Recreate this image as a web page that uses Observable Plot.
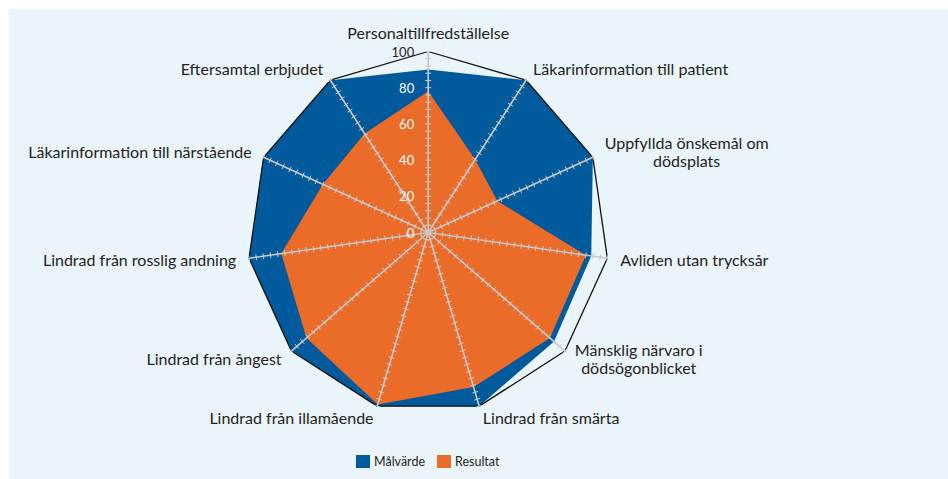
<!DOCTYPE html>
<html><head><meta charset="utf-8">
<script src="https://cdn.jsdelivr.net/npm/d3@7"></script>
<script src="https://cdn.jsdelivr.net/npm/@observablehq/plot@0.6"></script>
<style>
html,body{margin:0;padding:0;background:#fff;}
#panel{position:absolute;left:9px;top:9px;width:939px;height:470px;background:#e9f4fb;}
#chart{position:absolute;left:0;top:0;}
#legend{position:absolute;left:347px;top:445px;font:12.5px Lato,sans-serif;color:#231f20;display:flex;align-items:center;}
#legend .sw{display:inline-block;width:14px;height:13px;margin-right:4px;}
#legend .item{display:flex;align-items:center;margin-right:12px;}
</style></head>
<body>
<div id="panel"><div id="chart"></div>
<div id="legend"></div></div>
<script>
const categories = ["Personaltillfredställelse","Läkarinformation till patient","Uppfyllda önskemål om\ndödsplats","Avliden utan trycksår","Mänsklig närvaro i\ndödsögonblicket","Lindrad från smärta","Lindrad från illamående","Lindrad från ångest","Lindrad från rosslig andning","Läkarinformation till närstående","Eftersamtal erbjudet"];
const malvarde = [90,100,100,91,92,100,100,100,100,100,100];
const resultat = [78,48,42,88,89,89,99,89,82,64,65];
const seriesNames = ["Målvärde","Resultat"];
const seriesColors = ["#005a9c","#eb6b29"];
const tickValues = [0,20,40,60,80,100];
const maxValue = 100;
const minorStep = 4;

const W = 939, H = 445, cx = 418.7, cy = 223, R = 181;
const k = R / maxValue;
const n = categories.length;
const ang = i => i * 2 * Math.PI / n;
const pt = (v, i) => ({x: v * Math.sin(ang(i)), y: v * Math.cos(ang(i))});

const malPts = malvarde.map((v, i) => pt(v, i));
const resPts = resultat.map((v, i) => pt(v, i));
const outerPts = categories.map((c, i) => pt(maxValue, i));
const axes = categories.map((c, i) => ({i, ...pt(maxValue, i)}));

const ticks = [];
const half = 3 / k;
categories.forEach((c, i) => {
  const s = Math.sin(ang(i)), co = Math.cos(ang(i));
  for (let v = 0; v <= maxValue; v += minorStep) {
    const p = pt(v, i);
    ticks.push({x1: p.x + co * half, y1: p.y - s * half, x2: p.x - co * half, y2: p.y + s * half});
  }
});

const fontSize = 16;
const ctx = document.createElement("canvas").getContext("2d");
ctx.font = fontSize + "px Lato";
const gap = 13 / k;
const labels = categories.map((c, i) => {
  const s = Math.sin(ang(i)), co = Math.cos(ang(i));
  const lines = c.split("\n");
  const w = Math.max(...lines.map(l => ctx.measureText(l).width)) / k;
  const p = pt(maxValue + gap, i);
  let x = p.x;
  if (s > 0.1) x += w / 2; else if (s < -0.1) x -= w / 2;
  return {text: c, x, y: p.y, top: Math.abs(s) < 0.1 && co > 0};
});

const chart = Plot.plot({
  width: W, height: H, margin: 0,
  style: {background: "transparent", fontFamily: "Lato, sans-serif"},
  x: {domain: [-maxValue, maxValue], range: [cx - R, cx + R], axis: null},
  y: {domain: [-maxValue, maxValue], range: [cy + R, cy - R], axis: null},
  marks: [
    Plot.line(malPts, {x: "x", y: "y", curve: "linear-closed", fill: seriesColors[0], stroke: "none"}),
    Plot.line(resPts, {x: "x", y: "y", curve: "linear-closed", fill: seriesColors[1], stroke: "none"}),
    Plot.line(outerPts, {x: "x", y: "y", curve: "linear-closed", fill: "none", stroke: "#111", strokeWidth: 1.3}),
    Plot.link(axes, {x1: 0, y1: 0, x2: "x", y2: "y", stroke: "#c9c9c9", strokeWidth: 1.6}),
    Plot.link(ticks, {x1: "x1", y1: "y1", x2: "x2", y2: "y2", stroke: "#c9c9c9", strokeWidth: 1}),
    Plot.text(tickValues.filter(v => v < maxValue), {x: 0, y: d => d, text: d => String(d), textAnchor: "end", dx: -14, dy: 1, fill: "#ffffff", fontSize: 13}),
    Plot.text(tickValues.filter(v => v === maxValue), {x: 0, y: d => d, text: d => String(d), textAnchor: "end", dx: -14, dy: 1, fill: "#231f20", fontSize: 13}),
    Plot.text(labels.filter(d => !d.top), {x: "x", y: "y", text: "text", textAnchor: "middle", lineAnchor: "middle", fill: "#231f20", fontSize: fontSize, lineHeight: 1.12}),
    Plot.text(labels.filter(d => d.top), {x: "x", y: "y", text: "text", textAnchor: "middle", lineAnchor: "bottom", fill: "#231f20", fontSize: fontSize})
  ]
});
document.getElementById("chart").appendChild(chart);

const lg = document.getElementById("legend");
seriesNames.forEach((nm, j) => {
  const it = document.createElement("span"); it.className = "item";
  const sw = document.createElement("span"); sw.className = "sw"; sw.style.background = seriesColors[j];
  it.appendChild(sw); it.appendChild(document.createTextNode(nm)); lg.appendChild(it);
});
</script>
</body></html>
